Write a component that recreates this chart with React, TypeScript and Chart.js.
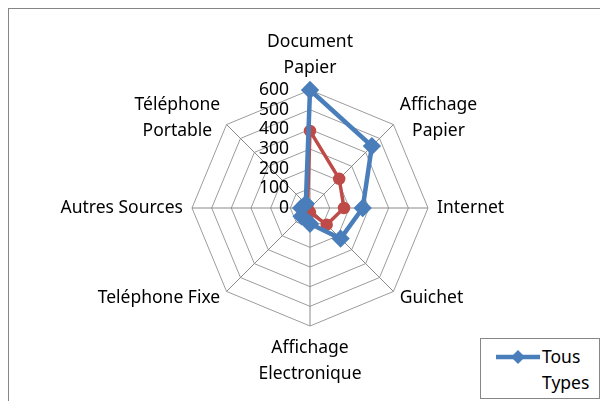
import React, { useEffect, useRef } from "react";
import { Chart, registerables } from "chart.js";

Chart.register(...registerables);

// ---- data ----
const categories: string[][] = [
  ["Document", "Papier"],
  ["Affichage", "Papier"],
  ["Internet"],
  ["Guichet"],
  ["Affichage", "Electronique"],
  ["Teléphone Fixe"],
  ["Autres Sources"],
  ["Téléphone", "Portable"],
];
const seriesNames = ["Tous Types", "Autre"];
const tousTypes = [600, 445, 268, 220, 80, 60, 45, 30];
const autre = [392, 210, 173, 120, 22, 20, 18, 18];
const tickValues = [0, 100, 200, 300, 400, 500, 600];

const BLUE = "#4A7EBB";
const RED = "#BE4B48";
const FONT = '"Noto Sans", sans-serif';
const FS = 17.5;

const excelLabels = {
  id: "excelLabels",
  afterDraw(chart: any) {
    const scale = chart.scales.r;
    const ctx = chart.ctx;
    ctx.save();
    ctx.font = `${FS}px ${FONT}`;
    ctx.fillStyle = "#000";
    // tick labels, left of the vertical axis
    ctx.textAlign = "right";
    ctx.textBaseline = "middle";
    tickValues.forEach((v) => {
      const p = scale.getPointPositionForValue(0, v);
      ctx.fillText(String(v), p.x - 21, p.y);
    });
    // point labels
    const lh = 26;
    const pad = 9;
    ctx.textAlign = "center";
    categories.forEach((lines, i) => {
      const p = scale.getPointPosition(i, scale.drawingArea + pad);
      const dx = Math.cos(p.angle);
      const dy = Math.sin(p.angle);
      const n = lines.length;
      const w = Math.max(...lines.map((t) => ctx.measureText(t).width));
      let c = p.y;
      let cx = p.x;
      if (Math.abs(dx) < 0.1) {
        c = dy < 0 ? p.y - (n * lh) / 2 : p.y + (n * lh) / 2;
      } else {
        cx = dx > 0 ? p.x + w / 2 : p.x - w / 2;
      }
      lines.forEach((t, k) => {
        ctx.fillText(t, cx, c - ((n - 1) * lh) / 2 + k * lh);
      });
    });
    ctx.restore();
  },
};

export default function App() {
  const ref = useRef<HTMLCanvasElement | null>(null);
  useEffect(() => {
    if (!ref.current) return;
    const chart = new Chart(ref.current, {
      type: "radar",
      data: {
        labels: categories.map((c) => c.join(" ")),
        datasets: [
          {
            label: seriesNames[0],
            data: tousTypes,
            borderColor: BLUE,
            backgroundColor: BLUE,
            borderWidth: 4.5,
            pointStyle: "rectRot",
            pointRadius: 6,
            pointBackgroundColor: BLUE,
            pointBorderColor: BLUE,
            fill: false,
          },
          {
            label: seriesNames[1],
            data: autre,
            borderColor: RED,
            backgroundColor: RED,
            borderWidth: 3.5,
            pointStyle: "circle",
            pointRadius: 4.5,
            pointBackgroundColor: RED,
            pointBorderColor: RED,
            fill: false,
          },
        ],
      },
      options: {
        animation: false,
        responsive: false,
        maintainAspectRatio: false,
        layout: { padding: { left: 192, right: 172, top: 90, bottom: 75 } },
        plugins: {
          legend: { display: false },
          tooltip: { enabled: false },
        },
        elements: { line: { tension: 0 } },
        scales: {
          r: {
            min: 0,
            max: 600,
            ticks: { display: false, stepSize: 100 },
            pointLabels: { display: false },
            grid: { color: "#9c9c9c", lineWidth: 1 },
            angleLines: { color: "#8a8a8a", lineWidth: 1 },
          },
        },
      },
      plugins: [excelLabels],
    } as any);
    return () => chart.destroy();
  }, []);

  return (
    <div style={{ position: "fixed", left: 0, top: 0, width: 600, height: 401, overflow: "hidden", background: "#fff" }}>
      <div
        style={{
          position: "absolute",
          left: 8,
          top: 8,
          width: 700,
          height: 500,
          borderLeft: "1px solid #868686",
          borderTop: "1px solid #868686",
        }}
      />
      <canvas ref={ref} width={600} height={401} style={{ position: "absolute", left: 0, top: 0 }} />
      <div
        style={{
          position: "absolute",
          left: 480,
          top: 338,
          width: 118,
          height: 59,
          border: "1px solid #868686",
          background: "#fff",
          fontFamily: FONT,
          fontSize: FS,
          lineHeight: "26px",
          color: "#000",
        }}
      >
        <svg width={44} height={14} style={{ position: "absolute", left: 15, top: 11 }}>
          <line x1={0} y1={7} x2={44} y2={7} stroke={BLUE} strokeWidth={4.5} />
          <polygon points="22,0 29,7 22,14 15,7" fill={BLUE} />
        </svg>
        <div style={{ position: "absolute", left: 61, top: 4 }}>
          {seriesNames[0].split(" ")[0]}
          <br />
          {seriesNames[0].split(" ")[1]}
        </div>
      </div>
    </div>
  );
}
